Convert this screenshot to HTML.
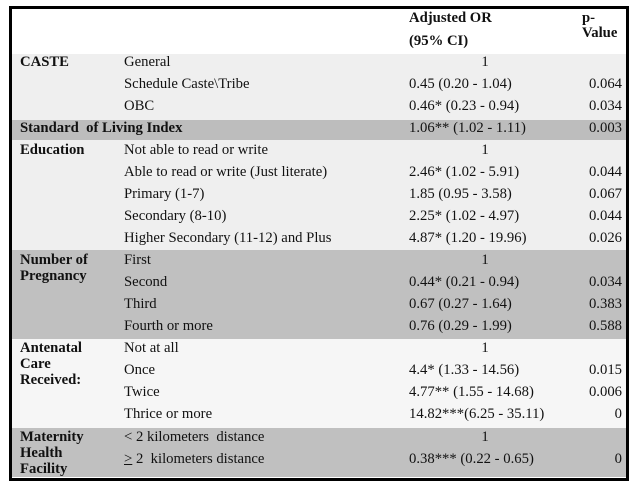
<!DOCTYPE html>
<html><head><meta charset="utf-8"><style>
body{margin:0;width:638px;height:494px;background:#fff;position:relative;overflow:hidden;font-family:"Liberation Serif",serif;font-size:14.7px;color:#111}
.box{position:absolute;left:9px;top:6px;width:614px;height:469px;border:3px solid #000;background:#fff}
.band{position:absolute;left:12px;width:614px}
.t{position:absolute;white-space:nowrap;line-height:16px}
.b{font-weight:bold}
.c{width:120px;text-align:center;left:425px}
.r{right:16px;text-align:right}
</style></head><body>
<div class="box"></div>
<div class="band" style="top:54px;height:66px;background:#efefef"></div>
<div class="band" style="top:120px;height:20px;background:#bdbdbd"></div>
<div class="band" style="top:140px;height:110px;background:#efefef"></div>
<div class="band" style="top:250px;height:89px;background:#c0c0c0"></div>
<div class="band" style="top:339px;height:89px;background:#f6f6f6"></div>
<div class="band" style="top:428px;height:49px;background:#c0c0c0"></div>

<div class="t b" style="left:409px;top:10px">Adjusted OR</div>
<div class="t b" style="left:409px;top:33px">(95% CI)</div>
<div class="t b" style="left:582px;top:10px">p-</div>
<div class="t b" style="left:582px;top:25px">Value</div>

<div class="t b" style="left:20px;top:54px">CASTE</div>
<div class="t" style="left:124px;top:54px">General</div><div class="t c" style="top:54px">1</div>
<div class="t" style="left:124px;top:76px">Schedule Caste\Tribe</div><div class="t" style="left:409px;top:76px">0.45 (0.20 - 1.04)</div><div class="t r" style="top:76px">0.064</div>
<div class="t" style="left:124px;top:98px">OBC</div><div class="t" style="left:409px;top:98px">0.46* (0.23 - 0.94)</div><div class="t r" style="top:98px">0.034</div>
<div class="t b" style="left:20px;top:120px">Standard&nbsp; of Living Index</div><div class="t" style="left:409px;top:120px">1.06** (1.02 - 1.11)</div><div class="t r" style="top:120px">0.003</div>
<div class="t b" style="left:20px;top:142px">Education</div>
<div class="t" style="left:124px;top:142px">Not able to read or write</div><div class="t c" style="top:142px">1</div>
<div class="t" style="left:124px;top:164px">Able to read or write (Just literate)</div><div class="t" style="left:409px;top:164px">2.46* (1.02 - 5.91)</div><div class="t r" style="top:164px">0.044</div>
<div class="t" style="left:124px;top:186px">Primary (1-7)</div><div class="t" style="left:409px;top:186px">1.85 (0.95 - 3.58)</div><div class="t r" style="top:186px">0.067</div>
<div class="t" style="left:124px;top:208px">Secondary (8-10)</div><div class="t" style="left:409px;top:208px">2.25* (1.02 - 4.97)</div><div class="t r" style="top:208px">0.044</div>
<div class="t" style="left:124px;top:230px">Higher Secondary (11-12) and Plus</div><div class="t" style="left:409px;top:230px">4.87* (1.20 - 19.96)</div><div class="t r" style="top:230px">0.026</div>

<div class="t b" style="left:20px;top:252px">Number of<br>Pregnancy</div>
<div class="t" style="left:124px;top:252px">First</div><div class="t c" style="top:252px">1</div>
<div class="t" style="left:124px;top:274px">Second</div><div class="t" style="left:409px;top:274px">0.44* (0.21 - 0.94)</div><div class="t r" style="top:274px">0.034</div>
<div class="t" style="left:124px;top:296px">Third</div><div class="t" style="left:409px;top:296px">0.67 (0.27 - 1.64)</div><div class="t r" style="top:296px">0.383</div>
<div class="t" style="left:124px;top:318px">Fourth or more</div><div class="t" style="left:409px;top:318px">0.76 (0.29 - 1.99)</div><div class="t r" style="top:318px">0.588</div>

<div class="t b" style="left:20px;top:340px">Antenatal<br>Care<br>Received:</div>
<div class="t" style="left:124px;top:340px">Not at all</div><div class="t c" style="top:340px">1</div>
<div class="t" style="left:124px;top:362px">Once</div><div class="t" style="left:409px;top:362px">4.4* (1.33 - 14.56)</div><div class="t r" style="top:362px">0.015</div>
<div class="t" style="left:124px;top:384px">Twice</div><div class="t" style="left:409px;top:384px">4.77** (1.55 - 14.68)</div><div class="t r" style="top:384px">0.006</div>
<div class="t" style="left:124px;top:406px">Thrice or more</div><div class="t" style="left:409px;top:406px">14.82***(6.25 - 35.11)</div><div class="t r" style="top:406px">0</div>

<div class="t b" style="left:20px;top:429px">Maternity<br>Health<br>Facility</div>
<div class="t" style="left:124px;top:429px">&lt; 2 kilometers&nbsp; distance</div><div class="t c" style="top:429px">1</div>
<div class="t" style="left:124px;top:451px"><u>&gt;</u> 2&nbsp; kilometers distance</div><div class="t" style="left:409px;top:451px">0.38*** (0.22 - 0.65)</div><div class="t r" style="top:451px">0</div>
</body></html>
